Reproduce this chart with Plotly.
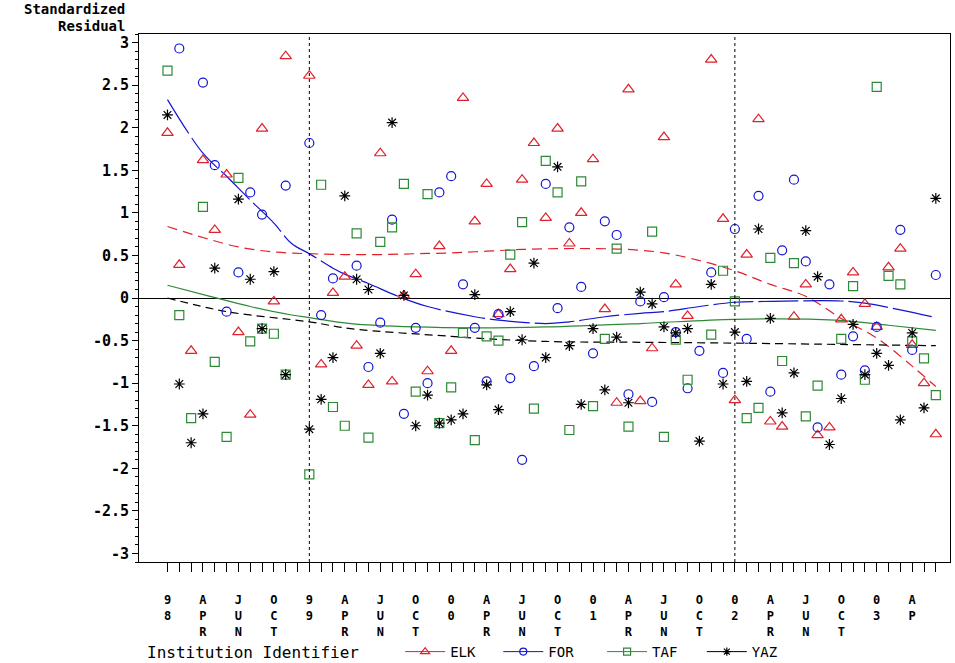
import plotly.graph_objects as go

# Month index: 0 = January 1998, 65 = June 2003
MONTHS = list(range(66))

# Standardized residuals per institution (None = no observation that month)
ELK = [1.94, 0.39, -0.62, 1.62, 0.80, 1.45, -0.40, -1.37, 1.99, -0.04,
       2.84, None, 2.61, -0.78, 0.06, 0.25, -0.56, -1.02, 1.70, -0.98,
       0.03, 0.28, -0.86, 0.61, -0.62, 2.35, 0.90, 1.34, -0.19, 0.34,
       1.39, 1.82, 0.94, 1.99, 0.64, 1.00, 1.63, -0.13, -1.23, 2.45,
       -1.21, -0.59, 1.89, 0.16, -0.21, None, 2.80, 0.93, -1.20, 0.51,
       2.10, -1.45, -1.51, -0.22, 0.16, -1.61, -1.52, -0.25, 0.30, -0.07,
       -0.34, 0.36, 0.58, -0.55, -1.00, -1.60]

FOR = [None, 2.93, None, 2.53, 1.56, -0.16, 0.30, 1.24, 0.98, None,
       1.32, None, 1.82, -0.20, 0.23, None, 0.38, -0.81, -0.29, 0.92,
       -1.36, -0.35, -1.00, 1.24, 1.43, 0.16, -0.35, -0.98, -0.19, -0.94,
       -1.90, -0.80, 1.34, -0.12, 0.83, 0.13, -0.65, 0.90, 0.74, -1.13,
       -0.04, -1.22, 0.01, -0.40, -1.06, -0.62, 0.30, -0.88, 0.81, -0.48,
       1.20, -1.10, 0.56, 1.39, 0.43, -1.52, 0.16, -0.90, -0.45, -0.85,
       -0.34, None, 0.80, -0.61, None, 0.27]

TAF = [2.67, -0.20, -1.41, 1.07, -0.75, -1.63, 1.41, -0.51, -0.36, -0.42,
       -0.90, None, -2.07, 1.33, -1.28, -1.50, 0.76, -1.64, 0.66, 0.83,
       1.34, -1.10, 1.22, -1.47, -1.05, -0.41, -1.67, -0.45, -0.50, 0.51,
       0.89, -1.30, 1.61, 1.24, -1.55, 1.37, -1.27, -0.48, 0.58, -1.51,
       None, 0.78, -1.63, -0.49, -0.96, None, -0.43, 0.32, -0.04, -1.41,
       -1.29, 0.47, -0.74, 0.41, -1.39, -1.03, None, -0.48, 0.14, -0.96,
       2.48, 0.26, 0.16, -0.51, -0.71, -1.14]

YAZ = [2.15, -1.01, -1.70, -1.36, 0.35, None, 1.16, 0.22, -0.36, 0.31,
       -0.90, None, -1.54, -1.19, -0.70, 1.20, 0.22, 0.10, -0.65, 2.06,
       0.03, -1.50, -1.14, -1.47, -1.43, -1.36, 0.04, -1.02, -1.31, -0.16,
       -0.49, 0.41, -0.70, 1.54, -0.56, -1.25, -0.36, -1.08, -0.46, -1.23,
       0.07, -0.07, -0.34, -0.41, -0.36, -1.68, 0.16, -1.01, -0.40, -0.98,
       0.81, -0.24, -1.35, -0.88, 0.79, 0.25, -1.72, -1.18, -0.31, -0.90,
       -0.65, -0.79, -1.43, -0.41, -1.29, 1.17]

# Smoothed trend per institution (month, fitted value)
ELK_FIT_X = [0, 3, 6, 9, 12, 15, 18, 21, 24, 27, 30, 33, 36, 39, 42, 45, 48, 51, 54, 57, 60, 63, 65]
ELK_FIT_Y = [0.84, 0.71, 0.60, 0.54, 0.52, 0.51, 0.51, 0.52, 0.53, 0.55, 0.57, 0.58, 0.58, 0.57,
             0.53, 0.44, 0.32, 0.16, 0.02, -0.24, -0.47, -0.80, -1.04]
FOR_FIT_X = [0, 3, 5, 7, 9, 10.5, 12, 14, 15, 17, 19.5, 22, 26, 28, 32, 34, 37, 40, 42, 45, 48, 51, 57, 59, 62, 65]
FOR_FIT_Y = [2.33, 1.70, 1.43, 1.15, 0.88, 0.64, 0.52, 0.35, 0.28, 0.17, 0.02, -0.10, -0.22, -0.26,
             -0.30, -0.28, -0.22, -0.18, -0.16, -0.10, -0.05, -0.04, -0.035, -0.06, -0.14, -0.23]
TAF_FIT_X = [0, 3.6, 7, 10.5, 12, 15.5, 21, 26, 32, 40, 48, 56.5, 61, 65]
TAF_FIT_Y = [0.15, 0.02, -0.10, -0.20, -0.23, -0.30, -0.34, -0.35, -0.34, -0.30, -0.25, -0.26, -0.32, -0.38]
YAZ_FIT_X = [0, 5, 12, 15.5, 24, 26, 32, 40, 48, 65]
YAZ_FIT_Y = [0.00, -0.16, -0.28, -0.36, -0.45, -0.47, -0.51, -0.52, -0.53, -0.56]

TICK_LABELS = {0: "98", 3: "APR", 6: "JUN", 9: "OCT", 12: "99", 15: "APR", 18: "JUN", 21: "OCT",
               24: "00", 27: "APR", 30: "JUN", 33: "OCT", 36: "01", 39: "APR", 42: "JUN", 45: "OCT",
               48: "02", 51: "APR", 54: "JUN", 57: "OCT", 60: "03", 63: "AP"}
Y_TICKS = [3, 2.5, 2, 1.5, 1, 0.5, 0, -0.5, -1, -1.5, -2, -2.5, -3]
YEAR_STARTS = [12, 48]

RED = "#e0202c"
BLUE = "#1414d2"
GREEN = "#2d8a34"
BLACK = "#000000"
MONO = "DejaVu Sans Mono"

# name, values, fit x, fit y, colour, marker, marker size, fit dash, legend id, legend x
series = [
    ("ELK", ELK, ELK_FIT_X, ELK_FIT_Y, RED, "triangle-up-open", 10, "10px,6px", "legend", 0.322),
    ("FOR", FOR, FOR_FIT_X, FOR_FIT_Y, BLUE, "circle-open", 9, "40px,5px", "legend2", 0.443),
    ("TAF", TAF, TAF_FIT_X, TAF_FIT_Y, GREEN, "square-open", 9, "solid", "legend3", 0.571),
    ("YAZ", YAZ, YAZ_FIT_X, YAZ_FIT_Y, BLACK, "asterisk-open", 9, "8px,5px", "legend4", 0.694),
]

fig = go.Figure()

for name, vals, fx, fy, col, sym, size, dash, lg, lx in series:
    fig.add_trace(go.Scatter(
        x=fx, y=fy, mode="lines", line=dict(color=col, width=1.2, dash=dash, shape="spline"),
        showlegend=False, hoverinfo="skip"))

for name, vals, fx, fy, col, sym, size, dash, lg, lx in series:
    fig.add_trace(go.Scatter(
        x=MONTHS, y=vals, mode="markers", name=name, showlegend=False,
        marker=dict(symbol=sym, size=size, color=col, line=dict(color=col, width=1.2))))

# legend entries: line with marker, one small legend per institution
legend_layout = {}
for name, vals, fx, fy, col, sym, size, dash, lg, lx in series:
    fig.add_trace(go.Scatter(
        x=[None], y=[None], mode="lines+markers", name=name, legend=lg,
        line=dict(color=col, width=1),
        marker=dict(symbol=sym, size=size - 2, color=col, line=dict(color=col, width=1.2))))
    legend_layout[lg] = dict(orientation="h", x=lx, xanchor="left", y=-0.1705, yanchor="middle",
                             font=dict(family=MONO, size=14, color=BLACK),
                             bgcolor="rgba(0,0,0,0)", itemwidth=40)

for m in YEAR_STARTS:
    fig.add_shape(type="line", xref="x", yref="paper", x0=m, x1=m, y0=0, y1=1,
                  line=dict(color=BLACK, width=1, dash="dot"))

ticktext = ["<br>".join(TICK_LABELS[m]) if m in TICK_LABELS else "" for m in MONTHS]

fig.update_xaxes(
    range=[-2.41, 66.2], tickmode="array", tickvals=MONTHS, ticktext=ticktext,
    ticks="outside", ticklen=9, tickwidth=1, tickcolor=BLACK, ticklabelstandoff=18,
    showline=True, linecolor=BLACK, linewidth=1, mirror=True, showgrid=False, zeroline=False,
    tickfont=dict(family=MONO, size=12, color=BLACK, weight="bold"), tickangle=0)

fig.update_yaxes(
    range=[-3.1, 3.1], tickmode="array", tickvals=Y_TICKS,
    ticktext=[("%g" % v) for v in Y_TICKS],
    ticks="outside", ticklen=6, tickwidth=1, tickcolor=BLACK,
    minor=dict(tickmode="linear", tick0=0, dtick=0.1, ticks="outside", ticklen=3, tickcolor=BLACK),
    showline=True, linecolor=BLACK, linewidth=1, mirror=True, showgrid=False,
    zeroline=True, zerolinecolor=BLACK, zerolinewidth=1,
    tickfont=dict(family=MONO, size=15, color=BLACK, weight="bold"))

# axis title in two right-aligned rows above the tick labels
for txt, ypos in (("Standardized", 1.0473), ("Residual", 1.0152)):
    fig.add_annotation(text=txt, xref="paper", yref="paper",
                       x=-0.0145, y=ypos, xanchor="right", yanchor="middle", align="right",
                       showarrow=False, font=dict(family=MONO, size=14, color=BLACK, weight="bold"))

fig.add_annotation(text="Institution Identifier", xref="paper", yref="paper",
                   x=0.0074, y=-0.1705, xanchor="left", yanchor="middle", showarrow=False,
                   font=dict(family=MONO, size=16, color=BLACK))

fig.update_layout(
    width=955, height=663, margin=dict(l=139, r=5, t=34, b=101, autoexpand=False),
    plot_bgcolor="white", paper_bgcolor="white",
    **legend_layout,
)

fig.write_html("out.html")
